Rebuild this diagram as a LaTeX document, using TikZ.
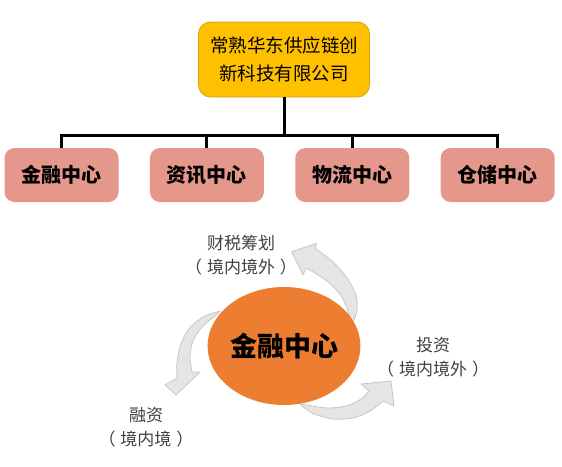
\documentclass[tikz,border=0pt]{standalone}
\usepackage{fontspec}
\setmainfont{Noto Sans CJK SC}
\usepackage{tikz}
\usetikzlibrary{calc}
\usetikzlibrary{positioning}
\usetikzlibrary{shapes.geometric}
\definecolor{gold}{HTML}{FFC000}
\definecolor{goldline}{HTML}{D9A300}
\definecolor{salmon}{HTML}{E6978B}
\definecolor{core}{HTML}{ED7D31}
\definecolor{txtgray}{HTML}{404040}
\newcommand{\paren}[1]{（\hspace{5pt}#1\hspace{5pt}）}

\begin{document}
\begin{tikzpicture}[x=1pt,y=-1pt,
		headbox/.style={draw=goldline,fill=gold,line width=0.8pt,rounded corners=12pt,minimum width=171pt,minimum height=75pt,align=center,font=\fontsize{18.5}{28}\selectfont},
		centerbox/.style={fill=salmon,rounded corners=10pt,minimum width=114pt,minimum height=54pt,font=\fontsize{20}{24}\selectfont\bfseries},
		bus/.style={line width=3pt},
		cyclearrow/.style={fill=black!10,draw=black!22,line width=0.8pt,line join=round},
		remark/.style={align=center,text=txtgray,font=\fontsize{17}{24}\selectfont}]
			\useasboundingbox (0,0) rectangle (562,466);
			%company and its four centers
			\node[headbox] (top) at (284,59.5) {常熟华东供应链创\\新科技有限公司};
			\node[centerbox] (jr) at (61.5,175) {金融中心};
			\node[centerbox,right=31pt of jr] (zx) {资讯中心};
			\node[centerbox,right=31pt of zx] (wl) {物流中心};
			\node[centerbox,right=31pt of wl] (cc) {仓储中心};
			\foreach \n in {jr,zx,wl,cc}
				\draw[bus] (top.south) -- ++(0,38) -| (\n.north);
			%arrows round the financial center
			\draw[cyclearrow] plot[smooth] coordinates {(315,248) (333,262) (347,278) (356,295) (357,310) (354,320)}
				-- plot[smooth] coordinates {(350,321) (347,308) (340,294) (328,282) (315,273) (306,268)}
				-- (303,275) -- (291.7,251.7) -- (316.7,243.3) -- cycle;
			\draw[cyclearrow] plot[smooth] coordinates {(220,311) (203,317) (188,330) (180,347) (177,363) (177,378)}
				-- (165,385) -- (176,395) -- (200,372)
				-- plot[smooth] coordinates {(192,372) (190,357) (193,341) (202,327) (215,316)} -- cycle;
			\draw[cyclearrow] plot[smooth] coordinates {(300,404) (312,413) (333,419) (353,418) (370,411) (383,401)}
				-- (394,406) -- (391,381) -- (361,384)
				-- plot[smooth] coordinates {(369,391) (361,399) (346,406) (327,408) (307,405)} -- cycle;
			\node[ellipse,fill=core,minimum width=150pt,minimum height=118pt,inner sep=0pt,font=\fontsize{27}{30}\selectfont\bfseries] (hub) at (284,346) {金融中心};
			%labels
			\node[remark] (tax) at (241,255) {财税筹划\\\paren{境内境外}};
			\node[remark] (inv) at (433,357.5) {投资\\\paren{境内境外}};
			\node[remark] (fin) at (146,427) {融资\\\paren{境内境}};
\end{tikzpicture}
\end{document}
